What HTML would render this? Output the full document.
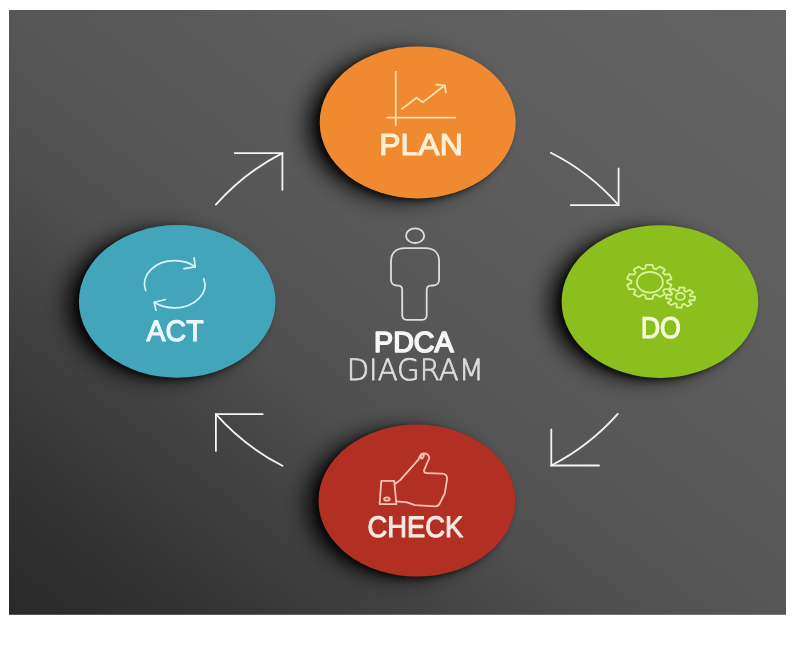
<!DOCTYPE html>
<html lang="en">
<head>
<meta charset="utf-8">
<title>PDCA Diagram</title>
<style>
  html, body { margin: 0; padding: 0; background: #ffffff; }
  body { width: 800px; height: 649px; overflow: hidden; position: relative; }
  svg { display: block; position: absolute; left: 0; top: 0; }
  text { font-family: "Liberation Sans", sans-serif; text-rendering: geometricPrecision; }
    .thin { font-family: "DejaVu Sans Light", "DejaVu Sans", "Liberation Sans", sans-serif; font-weight: 200; }
</style>
</head>
<body>
<svg width="800" height="649" viewBox="0 0 800 649">
  <defs>
    <linearGradient id="bg" x1="0" y1="1" x2="1" y2="0">
      <stop offset="0" stop-color="#292929"/>
      <stop offset="0.125" stop-color="#333333"/>
      <stop offset="0.25" stop-color="#404040"/>
      <stop offset="0.375" stop-color="#4e4e4e"/>
      <stop offset="0.5" stop-color="#575757"/>
      <stop offset="0.75" stop-color="#5e5e5e"/>
      <stop offset="1" stop-color="#636363"/>
    </linearGradient>
    <filter id="sh" x="-30%" y="-30%" width="160%" height="160%">
      <feGaussianBlur stdDeviation="11"/>
    </filter>
    <filter id="sh2" x="-30%" y="-30%" width="160%" height="160%">
      <feGaussianBlur stdDeviation="3"/>
    </filter>
    <clipPath id="panel"><rect x="9" y="10" width="777" height="604.8"/></clipPath>
  </defs>

  <rect x="0" y="0" width="800" height="649" fill="#ffffff"/>
  <rect x="9" y="10" width="777" height="604.8" fill="url(#bg)"/>

  <g clip-path="url(#panel)">
    <!-- shadows -->
    <g filter="url(#sh)" fill="#000" opacity="0.9">
      <ellipse cx="400.7" cy="125.9" rx="93.0" ry="73.0"/>
      <ellipse cx="160.2" cy="304.9" rx="93.3" ry="73.3"/>
      <ellipse cx="642.9" cy="305.1" rx="93.3" ry="73.3"/>
      <ellipse cx="399.9" cy="504.1" rx="93.4" ry="73.0"/>
    </g>
    <g filter="url(#sh2)" fill="#000" opacity="0.62">
      <ellipse cx="414.2" cy="124.9" rx="97.2" ry="75.5"/>
      <ellipse cx="173.7" cy="303.9" rx="97.5" ry="75.8"/>
      <ellipse cx="656.4" cy="304.1" rx="97.5" ry="75.8"/>
      <ellipse cx="413.4" cy="503.1" rx="97.6" ry="75.5"/>
    </g>

    <!-- circles -->
    <ellipse cx="417.7" cy="122.4" rx="98.0" ry="76.0" fill="#ef8a30"/>
    <ellipse cx="177.2" cy="301.4" rx="98.3" ry="76.3" fill="#43a5ba"/>
    <ellipse cx="659.9" cy="301.6" rx="98.3" ry="76.3" fill="#8bbf1d"/>
    <ellipse cx="416.9" cy="500.6" rx="98.4" ry="76.0" fill="#b23023"/>
  </g>

  <!-- arrows -->
  <g fill="none" stroke="#f4f4f4" stroke-width="1.8" stroke-linecap="round" stroke-linejoin="miter">
    <path d="M215.9,204.7 Q244.3,172.6 282.4,153.1"/>
    <path d="M234.7,153.1 H282.4 V189.8"/>
    <path d="M550.8,152.8 Q589.3,172 618.6,205.2"/>
    <path d="M618.6,168.5 V205.2 H570.8"/>
    <path d="M617.8,413.9 Q589.4,446 551.3,465.5"/>
    <path d="M551.3,429.3 V465.5 H599"/>
    <path d="M282.4,465.8 Q244.3,446.3 215.9,414.2"/>
    <path d="M262.7,414.2 H215.9 V450.9"/>
  </g>

  <!-- PLAN icon -->
  <g fill="none" stroke="#ffe0ab" stroke-width="1.8" stroke-linecap="round" stroke-linejoin="round">
    <path d="M395.8,71.8 V125.2"/>
    <path d="M387.2,117.6 H455.4"/>
    <path d="M402,108.9 L416.6,97.7 L422.8,102.2 L444.8,85.3"/>
    <path d="M436.3,84.7 L444.8,85.3 L445.9,92.6"/>
  </g>
  <g opacity="0.996"><text x="379.32" y="154.94" font-size="30.3" fill="#fff1d6" stroke="#fff1d6" stroke-width="1.1" stroke-linejoin="round" textLength="83.37" lengthAdjust="spacingAndGlyphs">PLAN</text></g>

  <!-- ACT icon -->
  <g fill="none" stroke="#d9f4fb" stroke-width="1.7" stroke-linecap="round" stroke-linejoin="round">
    <path d="M145.7,290.5 C140,275 155,260.7 174.7,260.7 C183,260.7 190,263 195.2,266.9"/>
    <path d="M194.1,257.9 L195.2,266.9 L184,268.6"/>
    <path d="M203.7,278.7 C209.5,293 194.5,307.9 174.7,307.9 C166.5,307.9 159.5,305.8 154.2,302.3"/>
    <path d="M165.4,299.5 L154.2,302.3 L155.9,310.2"/>
  </g>
  <g opacity="0.996"><text x="146.59" y="340.93" font-size="29.6" fill="#eefafd" stroke="#eefafd" stroke-width="1.1" stroke-linejoin="round" textLength="57.00" lengthAdjust="spacingAndGlyphs">ACT</text></g>

  <!-- DO icon -->
  <g fill="none" stroke="#daf5a0" stroke-width="1.7" stroke-linejoin="round">
    <path d="M653.4,295.2 L652.5,298.8 L646.1,298.8 L645.2,295.2 L642.4,294.5 L638.8,297.0 L633.6,294.1 L635.6,290.8 L633.9,289.0 L629.1,289.4 L627.1,284.7 L631.4,282.9 L631.4,280.7 L627.1,278.9 L629.1,274.2 L633.9,274.6 L635.6,272.8 L633.6,269.5 L638.8,266.6 L642.4,269.1 L645.2,268.4 L646.1,264.8 L652.5,264.8 L653.4,268.4 L656.2,269.1 L659.8,266.6 L665.0,269.5 L663.0,272.8 L664.7,274.6 L669.5,274.2 L671.5,278.9 L667.2,280.7 L667.2,282.9 L671.5,284.7 L669.5,289.4 L664.7,289.0 L663.0,290.8 L665.0,294.1 L659.8,297.0 L656.2,294.5 Z"/>
    <ellipse cx="649.9" cy="282.3" rx="13" ry="10.4"/>
    <path d="M682.4,304.3 L681.6,307.7 L676.5,307.3 L676.7,303.9 L674.9,303.2 L671.0,305.2 L667.7,302.5 L671.3,300.2 L670.8,298.8 L665.9,298.3 L666.5,294.7 L671.3,294.9 L672.3,293.6 L669.4,290.9 L673.4,288.6 L676.7,291.1 L678.6,290.7 L679.4,287.3 L684.5,287.7 L684.3,291.1 L686.1,291.8 L690.0,289.8 L693.3,292.5 L689.7,294.8 L690.2,296.2 L695.1,296.7 L694.5,300.3 L689.7,300.1 L688.7,301.4 L691.6,304.1 L687.6,306.4 L684.3,303.9 Z"/>
    <ellipse cx="680.3" cy="296.4" rx="4.5" ry="3.6"/>
  </g>
  <g opacity="0.996"><text x="640.67" y="338.11" font-size="30" fill="#f4fbe0" stroke="#f4fbe0" stroke-width="1.1" stroke-linejoin="round" textLength="40.25" lengthAdjust="spacingAndGlyphs">DO</text></g>

  <!-- CHECK icon -->
  <g fill="none" stroke="#f8c4ba" stroke-width="1.8" stroke-linecap="round" stroke-linejoin="round">
    <path d="M381.3,480.8 L394.2,480.8 L396.4,504.1 L379.6,504.1 Z"/>
    <ellipse cx="386.9" cy="499" rx="2.8" ry="1.7"/>
    <path d="M395.3,483.8 L400.4,479.9 L418.4,459.6 C420,455 421,453.4 422.9,453.4 C426.5,453.2 429.6,455 429.1,458.5 L424,470.3 C424,472 425,473.1 426.3,473.1 L442,473.7 C445.5,473.8 447.4,476 447.1,478.8 L444.8,493.4 L439.7,503.5 C438.6,505.6 437,506.3 435.3,506.3 L415,505.2 L407.1,502.4 L396.4,501.3"/>
    <ellipse cx="422.3" cy="456.4" rx="1.3" ry="2.2" transform="rotate(25 422.3 456.4)"/>
  </g>
  <g opacity="0.996"><text x="367.61" y="536.58" font-size="29.6" fill="#fbe9e4" stroke="#fbe9e4" stroke-width="1.1" stroke-linejoin="round" textLength="95.61" lengthAdjust="spacingAndGlyphs">CHECK</text></g>

  <!-- centre person -->
  <g fill="none" stroke="#dedede" stroke-width="1.8" stroke-linejoin="round">
    <ellipse cx="415.1" cy="235.7" rx="9.1" ry="7.3"/>
    <path d="M405,248.2 L425.5,248.2 C434,248.2 439.1,253 439.1,261 L439.1,279.5 C439.1,283.5 437,285.2 433,285.5 L430.5,285.7 C428,286 426.7,287.5 426.7,290 L426.7,315 C426.7,318.5 425,319.8 422,319.8 L407,319.8 C404,319.8 402.2,318.5 402.2,315 L402.2,290 C402.2,287.5 401,286 398.5,285.7 L396.5,285.5 C393,285.2 391,283.5 391,279.5 L391,261 C391,253 396,248.2 405,248.2 Z"/>
  </g>
  <g opacity="0.996"><text x="374.08" y="352.25" font-size="28.9" fill="#f7f7f7" stroke="#f7f7f7" stroke-width="1.6" stroke-linejoin="round" textLength="79.60" lengthAdjust="spacingAndGlyphs">PDCA</text></g>
  <g opacity="0.996"><text class="thin" x="346.67" y="379.85" font-size="29.3" fill="#dedede" stroke="#dedede" stroke-width="0.8" stroke-linejoin="round" textLength="137.19" lengthAdjust="spacingAndGlyphs">DIAGRAM</text></g>
</svg>
</body>
</html>
